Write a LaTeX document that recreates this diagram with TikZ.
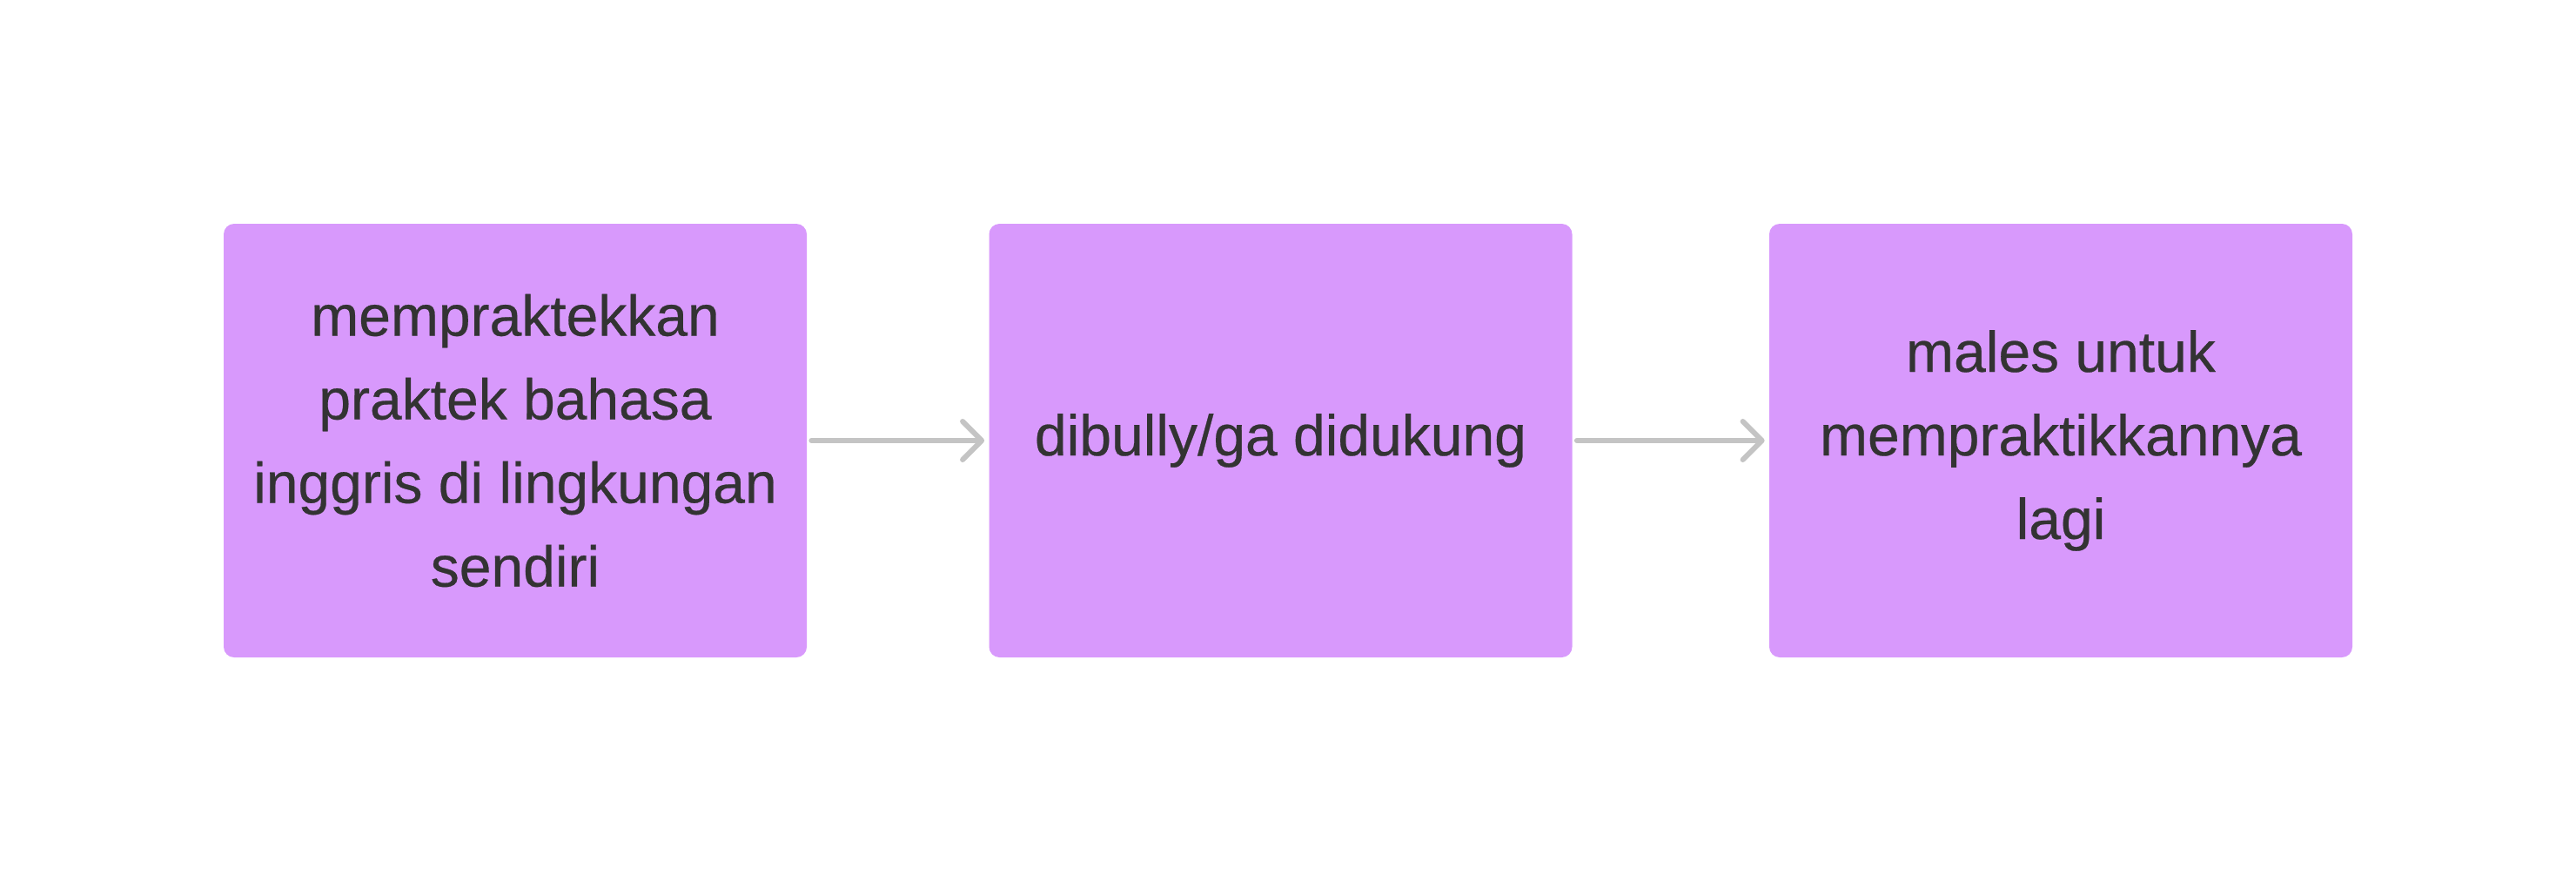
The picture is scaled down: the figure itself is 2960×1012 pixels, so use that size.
\documentclass[tikz,border=0pt]{standalone}
\usepackage{fontspec}
\setmainfont{Liberation Sans}[FakeBold=0.4]
\usetikzlibrary{arrows.meta}
\definecolor{boxfill}{HTML}{D899FC}
\definecolor{txt}{HTML}{333333}
\definecolor{arr}{HTML}{C4C4C4}
\tikzset{
  stepbox/.style={rectangle, fill=boxfill, draw=none, rounded corners=6pt,
    minimum width=335pt, minimum height=249pt, inner sep=0pt,
    align=center, text=txt,
    font=\fontsize{33pt}{48pt}\selectfont},
  conn/.style={draw=arr, line width=3pt, line cap=round,
    -{Straight Barb[length=11pt,width=22pt,round]},
    shorten <=2.5pt, shorten >=2.5pt}
}
\begin{document}
\begin{tikzpicture}[x=0.5pt,y=-0.5pt]
\useasboundingbox (0,0) rectangle (2960,1012);
\fill[white] (0,0) rectangle (2960,1012);
\node[stepbox] (a) at (592,506) {mempraktekkan\\praktek bahasa\\inggris di lingkungan\\sendiri};
\node[stepbox] (b) at (1471.5,506) {dibully/ga didukung};
\node[stepbox] (c) at (2368,506) {males untuk\\mempraktikkannya\\lagi};
\draw[conn] (a) -- (b);
\draw[conn] (b) -- (c);
\end{tikzpicture}
\end{document}
